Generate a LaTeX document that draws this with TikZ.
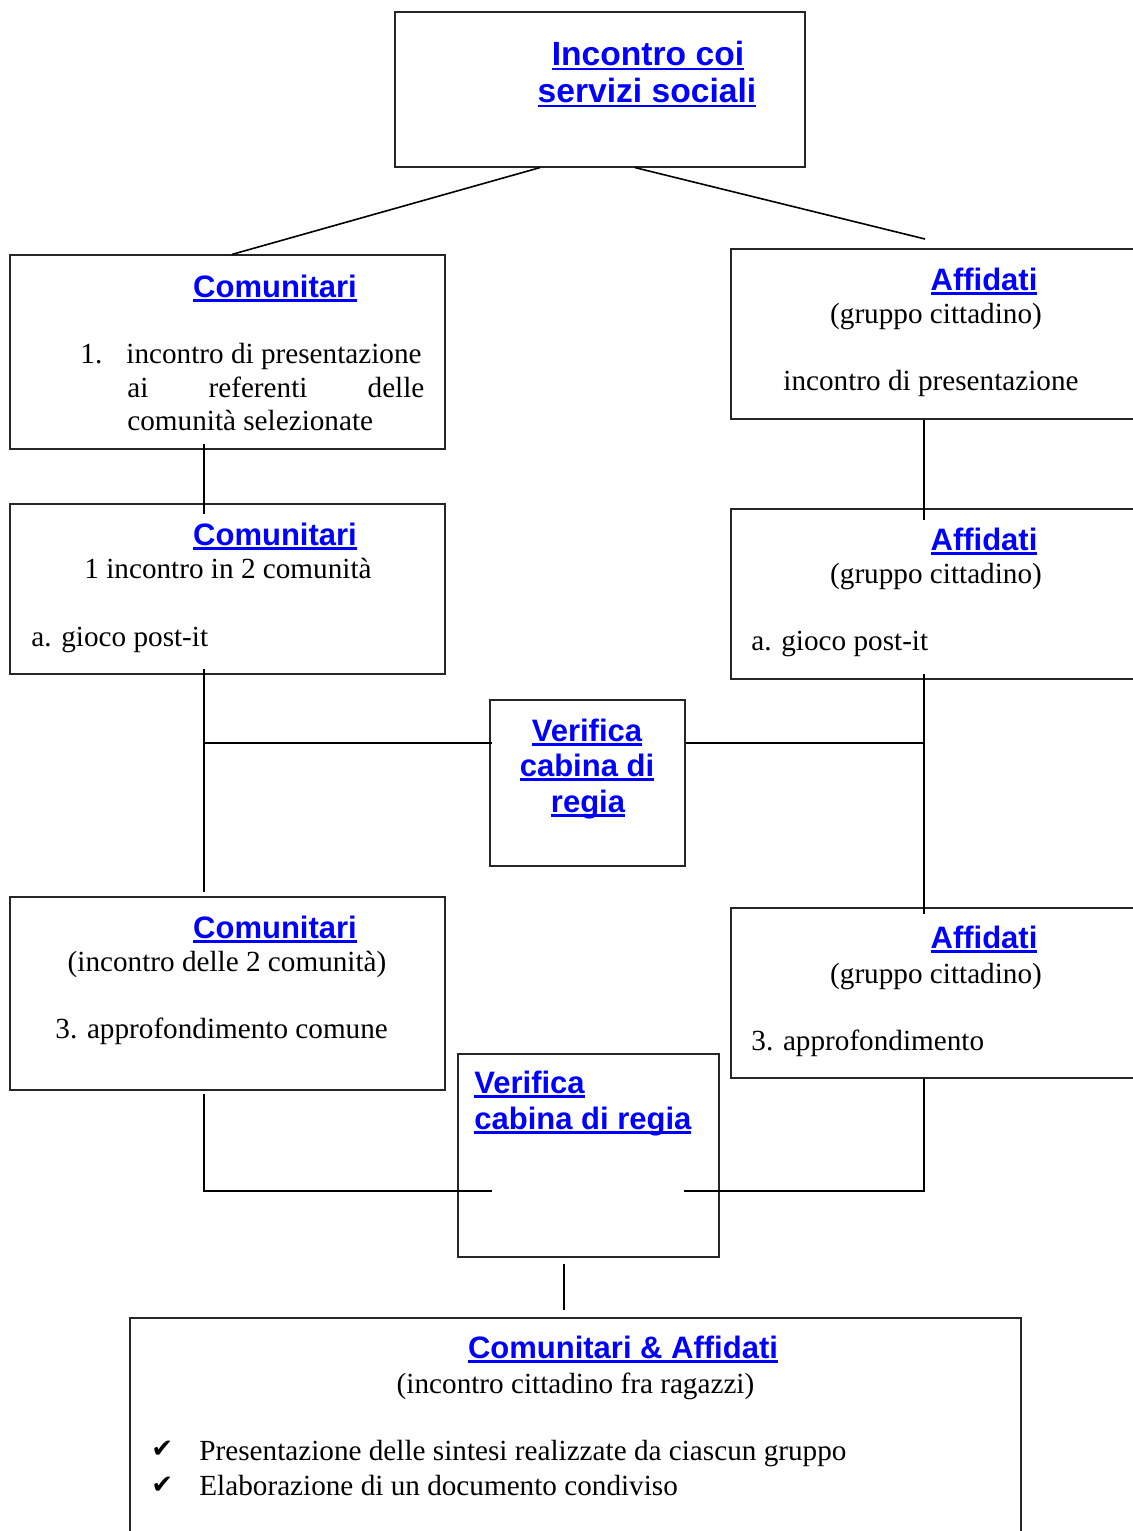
\documentclass[tikz,border=0pt]{standalone}
\usepackage{fontspec}
\setmainfont{Liberation Serif}
\setsansfont{Liberation Sans}
\newfontfamily\symfont{DejaVu Sans}
\usetikzlibrary{fit}
\definecolor{lnk}{RGB}{0,0,255}
\newcommand\hd[1]{{\color{lnk}\sffamily\bfseries\setbox0\hbox{#1}\rlap{\rule[-0.15em]{\wd0}{0.07em}}\box0}}
\tikzset{
  box/.style={draw=black!85, line width=0.6pt, inner sep=0pt, fit={#1}},
  conn/.style={line width=0.8pt},
  txt/.style={inner sep=0pt, font=\fontsize{14.6}{17}\selectfont},
  hdr/.style={inner sep=0pt, font=\fontsize{15.5}{18}\selectfont},
  bighdr/.style={inner sep=0pt, font=\fontsize{16.8}{20}\selectfont},
  chk/.style={inner sep=0pt, font=\fontsize{13}{15}\symfont},
}
\begin{document}
\begin{tikzpicture}[x=0.5pt,y=-0.5pt]
\useasboundingbox (0,0) rectangle (1133,1531);
\clip (0,0) rectangle (1133,1531);
% top
\node[box={(395,12) (805,167)}] (t) {};
\node[bighdr, anchor=base] (t1) at (648,65) {\hd{Incontro coi}};
\node[bighdr, anchor=base] (t2) at (647,102) {\hd{servizi sociali}};
% Comunitari 1
\node[box={(10,255) (445,449)}] (c1) {};
\node[hdr, anchor=base] (c1h) at (275,297) {\hd{Comunitari}};
\node[txt, anchor=base west] (c1n) at (80,363) {1.};
\node[txt, anchor=base west] (c1a) at (126,363) {incontro di presentazione};
\node[txt, anchor=base west] (c1b) at (127,397) {\hbox to 148.5pt{ai\hfill referenti\hfill delle}};
\node[txt, anchor=base west] (c1c) at (127,430) {comunità selezionate};
% Comunitari 2
\node[box={(10,504) (445,674)}] (c2) {};
\node[hdr, anchor=base] (c2h) at (275,545) {\hd{Comunitari}};
\node[txt, anchor=base] (c2a) at (228,578) {1 incontro in 2 comunità};
\node[txt, anchor=base west] (c2b) at (31,646) {a. gioco post-it};
% Affidati 1
\node[box={(731,249) (1145,419)}] (a1) {};
\node[hdr, anchor=base] (a1h) at (984,290) {\hd{Affidati}};
\node[txt, anchor=base] (a1a) at (936,323) {(gruppo cittadino)};
\node[txt, anchor=base west] (a1b) at (783,390) {incontro di presentazione};
% Affidati 2
\node[box={(731,509) (1145,679)}] (a2) {};
\node[hdr, anchor=base] (a2h) at (984,550) {\hd{Affidati}};
\node[txt, anchor=base] (a2a) at (936,583) {(gruppo cittadino)};
\node[txt, anchor=base west] (a2b) at (751,650) {a. gioco post-it};
% Verifica 1
\node[box={(490,700) (685,866)}] (v1) {};
\node[hdr, anchor=base] (v1a) at (587,741) {\hd{Verifica}};
\node[hdr, anchor=base] (v1b) at (587,776) {\hd{cabina di}};
\node[hdr, anchor=base] (v1c) at (588,812) {\hd{regia}};
% Comunitari 3
\node[box={(10,897) (445,1090)}] (c3) {};
\node[hdr, anchor=base] (c3h) at (275,938) {\hd{Comunitari}};
\node[txt, anchor=base] (c3a) at (227,971) {(incontro delle 2 comunità)};
\node[txt, anchor=base west] (c3b) at (55,1038) {3. approfondimento comune};
% Affidati 3
\node[box={(731,908) (1145,1078)}] (a3) {};
\node[hdr, anchor=base] (a3h) at (984,948) {\hd{Affidati}};
\node[txt, anchor=base] (a3a) at (936,983) {(gruppo cittadino)};
\node[txt, anchor=base west] (a3b) at (751,1050) {3. approfondimento};
% Verifica 2
\node[box={(458,1054) (719,1257)}] (v2) {};
\node[hdr, anchor=base west] (v2a) at (474,1093) {\hd{Verifica}};
\node[hdr, anchor=base west] (v2b) at (474,1129) {\hd{cabina di regia}};
% bottom
\node[box={(130,1318) (1021,1545)}] (b) {};
\node[hdr, anchor=base] (bh) at (623,1358) {\hd{Comunitari \& Affidati}};
\node[txt, anchor=base] (ba) at (575.5,1393) {(incontro cittadino fra ragazzi)};
\node[chk, anchor=base west] (bk1) at (151,1457) {✔};
\node[txt, anchor=base west] (bb) at (199,1460) {Presentazione delle sintesi realizzate da ciascun gruppo};
\node[chk, anchor=base west] (bk2) at (151,1493) {✔};
\node[txt, anchor=base west] (bc) at (199,1495) {Elaborazione di un documento condiviso};
% connectors
\coordinate (fa) at (925,239);
\coordinate (jl) at (204,743);
\coordinate (jr) at (924,743);
\draw[conn] (t.south -| 540,0) -- (c1.north -| 232,0);
\draw[conn] (t.south -| 635,0) -- (fa);
\draw[conn, shorten <=-3pt, shorten >=-5.5pt] (c1.south -| 204,0) -- (c2.north -| 204,0);
\draw[conn, shorten >=-6pt] (a1.south -| 924,0) -- (a2.north -| 924,0);
\draw[conn, shorten <=-3pt, shorten >=2pt] (c2.south -| 204,0) -- (c3.north -| 204,0);
\draw[conn, shorten <=-3pt, shorten >=-3.5pt] (a2.south -| 924,0) -- (a3.north -| 924,0);
\draw[conn, shorten >=-1.5pt] (jl) -- (v1.west |- jl);
\draw[conn] (v1.east |- jr) -- (jr);
\draw[conn, shorten <=1.5pt, shorten >=-17.5pt] (c3.south -| 204,0) |- (v2.west |- 0,1191);
\draw[conn, shorten <=-18pt] (v2.east |- 0,1191) -| (a3.south -| 924,0);
\draw[conn, shorten <=3pt, shorten >=3.5pt] (v2.south -| 564,0) -- (b.north -| 564,0);
\end{tikzpicture}
\end{document}
